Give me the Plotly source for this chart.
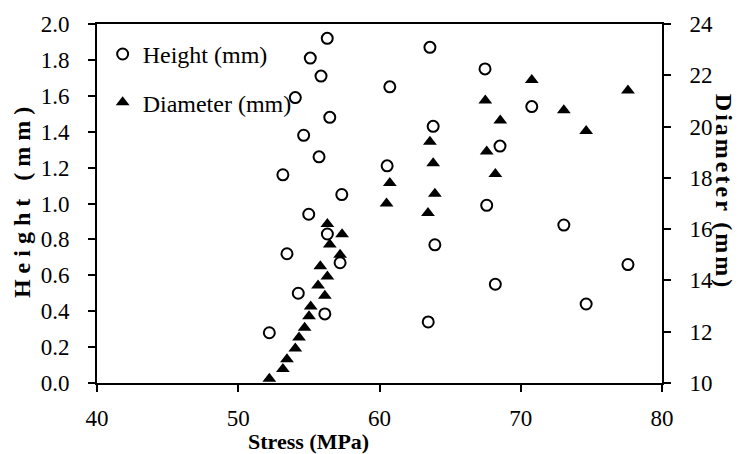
import plotly.graph_objects as go

# Height series (open circles)
stress_h = [56.3, 55.1, 55.86, 60.73, 54.04, 56.48, 54.63, 55.72, 60.54, 53.16,
            57.33, 54.99, 56.31, 53.45, 57.21, 54.25, 56.13, 52.2,
            63.57, 67.47, 70.78, 63.80, 68.53, 67.59, 73.05, 63.92, 77.59, 68.2, 74.63, 63.45]
height_mm = [1.92, 1.81, 1.71, 1.65, 1.59, 1.48, 1.38, 1.26, 1.21, 1.16,
             1.05, 0.94, 0.83, 0.72, 0.67, 0.50, 0.385, 0.28,
             1.87, 1.75, 1.54, 1.43, 1.32, 0.99, 0.88, 0.77, 0.66, 0.55, 0.44, 0.34]

# Diameter series (filled triangles)
stress_d = [60.73, 60.5, 56.31, 57.35, 56.48, 57.21, 55.81, 56.31, 55.65, 56.13,
            55.13, 55.01, 54.70, 54.3, 54.04, 53.45, 53.16, 52.2,
            70.78, 77.59, 67.49, 73.05, 68.55, 74.63, 63.57, 67.59, 63.80, 68.2, 63.92, 63.43]
diameter_mm = [17.8, 17.0, 16.2, 15.8, 15.4, 15.0, 14.55, 14.15, 13.8, 13.4,
               12.98, 12.6, 12.15, 11.77, 11.35, 10.93, 10.55, 10.17,
               21.82, 21.41, 21.02, 20.64, 20.24, 19.83, 19.41, 19.03, 18.57, 18.15, 17.38, 16.63]

x_ticks = [40, 50, 60, 70, 80]
h_ticks = [0.0, 0.2, 0.4, 0.6, 0.8, 1.0, 1.2, 1.4, 1.6, 1.8, 2.0]
d_ticks = [10, 12, 14, 16, 18, 20, 22, 24]

FONT = "Times New Roman, Liberation Serif, DejaVu Serif, serif"

fig = go.Figure()
fig.add_trace(go.Scatter(
    x=stress_h, y=height_mm, mode="markers", name="Height (mm)",
    legendgroup="h",
    marker=dict(symbol="circle-open", size=11, color="black", line=dict(width=2, color="black")),
))
fig.add_trace(go.Scatter(
    x=stress_d, y=diameter_mm, mode="markers", name="Diameter (mm)",
    legendgroup="d", yaxis="y2",
    marker=dict(symbol="triangle-up", size=12, color="black", line=dict(width=0)),
))

axis_common = dict(
    showgrid=False, zeroline=False, showline=True, linecolor="black", linewidth=2,
    ticks="outside", ticklen=7, tickwidth=2, tickcolor="black",
    tickfont=dict(family=FONT, size=23, color="black"),
)

fig.update_layout(
    width=741, height=454,
    margin=dict(l=97, r=79, t=20, b=71),
    paper_bgcolor="white", plot_bgcolor="white",
    font=dict(family=FONT, color="black"),
    xaxis=dict(range=[40, 80], tickvals=x_ticks, ticktext=[str(v) for v in x_ticks],
               mirror=True, ticklabelstandoff=6, **axis_common),
    yaxis=dict(range=[0, 2.0], tickvals=h_ticks, ticktext=[f"{v:.1f}" for v in h_ticks],
               ticklabelstandoff=14, **axis_common),
    yaxis2=dict(range=[10, 24], tickvals=d_ticks, ticktext=[str(v) for v in d_ticks],
                overlaying="y", side="right", ticklabelstandoff=14, **axis_common),
    showlegend=True,
    legend=dict(x=0.01, y=0.978, xanchor="left", yanchor="top",
                bgcolor="rgba(0,0,0,0)", borderwidth=0,
                font=dict(family=FONT, size=24, color="black"),
                traceorder="grouped", tracegroupgap=14),
    annotations=[
        dict(text="Stress (MPa)", xref="paper", yref="paper", x=0.375, y=-0.162,
             xanchor="center", yanchor="middle", showarrow=False,
             font=dict(family=FONT, size=22, color="black", weight="bold")),
        dict(text='<span style="letter-spacing:6px">Height (mm)</span>', xref="paper", yref="paper",
             x=-0.133, y=0.512, xanchor="center", yanchor="middle", showarrow=False, textangle=-90,
             font=dict(family=FONT, size=24, color="black", weight="bold")),
        dict(text='<span style="letter-spacing:3px">Diameter (mm)</span>', xref="paper", yref="paper",
             x=1.11, y=0.532, xanchor="center", yanchor="middle", showarrow=False, textangle=90,
             font=dict(family=FONT, size=24, color="black", weight="bold")),
    ],
)

fig.write_html("out.html")
